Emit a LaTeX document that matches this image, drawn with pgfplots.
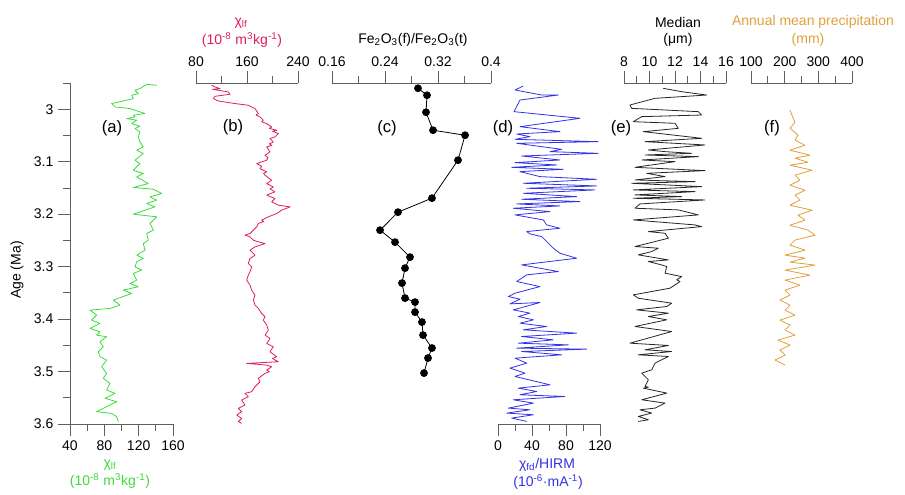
\documentclass[border=0pt]{standalone}
\usepackage{fontspec}
\setmainfont{Liberation Sans}
\usepackage{pgfplots}
\pgfplotsset{compat=1.18}
\definecolor{cA}{RGB}{60,220,60}
\definecolor{cB}{RGB}{220,30,90}
\definecolor{cD}{RGB}{50,50,230}
\definecolor{cF}{RGB}{225,160,60}
\definecolor{axc}{RGB}{95,95,95}
\pgfplotsset{
  base/.style={scale only axis, height=255.75pt, ymin=2.95, ymax=3.6, y dir=reverse,
    enlargelimits=false, tick align=outside, major tick length=9pt, minor tick length=5.25pt,
    axis line style={-, draw=axc, line width=0.6pt},
    every tick/.style={draw=axc, line width=0.6pt},
    /pgf/number format/assume math mode=true,
    tick label style={font=\fontsize{10.5}{12}\selectfont},
    clip=false,
    every axis plot/.append style={line width=0.6pt, line join=round}},
  topx/.style={base, hide y axis, axis x line*=top},
  botx/.style={base, hide y axis, axis x line*=bottom},
}
\newcommand{\lab}{\fontsize{10.5}{12}\selectfont}
\begin{document}
\begin{tikzpicture}
\path[use as bounding box] (0,0) rectangle (678.75pt,370.5pt);
% (a) with age axis
\begin{axis}[base, at={(52.5pt,52.5pt)}, anchor=south west, width=77.25pt,
  axis x line*=bottom, axis y line*=left, xmin=40, xmax=160,
  xtick={40,80,120,160}, minor xtick={60,100,140},
  ytick={3,3.1,3.2,3.3,3.4,3.5,3.6}, minor ytick={2.95,3.05,3.15,3.25,3.35,3.45,3.55}]
\addplot[cA] table {
140.9 2.9543
129.3 2.9524
121.5 2.9606
115.7 2.9638
119.6 2.9701
111.8 2.9733
113.8 2.9797
106.0 2.9828
88.5 2.9892
92.4 2.9955
109.9 2.9987
127.4 3.0082
113.8 3.0114
115.7 3.0146
106.0 3.0178
117.7 3.0209
111.8 3.0273
121.5 3.0324
115.7 3.0368
121.5 3.0432
119.6 3.0527
121.5 3.0622
125.4 3.0717
117.7 3.0781
125.4 3.0844
115.7 3.0971
121.5 3.1035
113.8 3.1162
125.4 3.1225
117.7 3.1289
131.2 3.1416
113.8 3.1492
137.1 3.1524
146.8 3.1606
133.2 3.1670
141.0 3.1733
129.3 3.1797
139.0 3.1860
113.8 3.2000
141.0 3.2051
133.2 3.2178
137.1 3.2305
129.3 3.2368
131.2 3.2495
125.4 3.2559
127.4 3.2686
117.7 3.2781
125.4 3.2844
117.7 3.2908
115.7 3.3003
123.5 3.3067
113.8 3.3130
117.7 3.3257
109.9 3.3321
119.6 3.3384
102.1 3.3448
111.8 3.3511
90.5 3.3638
98.2 3.3733
86.6 3.3797
63.3 3.3829
71.0 3.3924
65.2 3.4019
74.9 3.4083
63.3 3.4178
74.9 3.4241
71.0 3.4305
82.7 3.4337
74.9 3.4432
78.8 3.4527
73.0 3.4622
74.9 3.4717
82.7 3.4781
76.9 3.4908
82.7 3.5035
78.8 3.5130
86.6 3.5225
82.7 3.5352
92.4 3.5416
80.8 3.5511
94.4 3.5575
86.6 3.5638
71.0 3.5765
88.5 3.5797
94.4 3.5860
96.3 3.5956
};
\end{axis}
% (b)
\begin{axis}[topx, at={(147pt,52.5pt)}, anchor=south west, width=76.5pt,
  xmin=80, xmax=240, xtick={80,160,240}, minor xtick={120,200}]
\addplot[cB] table {
104.6 2.9543
109.8 2.9575
117.7 2.9607
106.0 2.9620
115.0 2.9638
130.7 2.9670
133.3 2.9715
109.8 2.9753
107.2 2.9797
115.0 2.9842
141.2 2.9892
162.1 2.9924
172.6 2.9988
177.8 3.0083
174.0 3.0110
180.4 3.0146
185.6 3.0210
183.0 3.0240
190.9 3.0273
198.7 3.0337
195.0 3.0365
206.6 3.0400
200.0 3.0420
209.2 3.0464
203.9 3.0527
196.1 3.0559
201.3 3.0623
195.0 3.0660
199.0 3.0690
190.9 3.0718
196.1 3.0813
188.3 3.0877
193.0 3.0920
190.9 3.0972
175.2 3.1035
183.0 3.1086
180.4 3.1131
190.9 3.1194
186.0 3.1220
188.3 3.1258
198.7 3.1353
190.9 3.1416
201.3 3.1480
196.0 3.1520
203.9 3.1575
190.9 3.1638
203.9 3.1702
198.7 3.1765
209.2 3.1829
227.5 3.1861
214.4 3.1924
206.6 3.1988
193.5 3.2051
183.0 3.2115
186.0 3.2140
177.8 3.2178
175.2 3.2242
170.0 3.2305
164.7 3.2369
156.9 3.2400
164.7 3.2432
170.0 3.2496
177.8 3.2527
188.3 3.2559
172.6 3.2623
164.7 3.2686
172.6 3.2781
164.7 3.2845
162.1 3.2940
167.3 3.3004
164.7 3.3099
162.1 3.3162
159.5 3.3257
164.7 3.3353
167.3 3.3448
172.6 3.3543
170.0 3.3638
172.6 3.3734
177.8 3.3797
183.0 3.3892
188.3 3.3956
185.6 3.4019
190.9 3.4115
193.5 3.4210
188.3 3.4305
196.1 3.4369
190.9 3.4464
201.3 3.4527
196.1 3.4623
206.6 3.4718
200.0 3.4750
203.9 3.4781
209.2 3.4813
159.5 3.4845
190.9 3.4877
198.7 3.4908
190.9 3.4972
195.0 3.5000
188.3 3.5035
177.8 3.5130
180.4 3.5194
172.6 3.5289
167.3 3.5384
156.9 3.5416
162.1 3.5480
151.6 3.5543
156.9 3.5638
146.4 3.5702
151.6 3.5765
143.8 3.5829
151.6 3.5892
146.4 3.5956
151.6 3.5988
};
\end{axis}
% (c)
\begin{axis}[topx, at={(249pt,52.5pt)}, anchor=south west, width=119.25pt,
  xmin=0.16, xmax=0.4, xtick={0.16,0.24,0.32,0.4}, minor xtick={0.2,0.28,0.36}]
\addplot[black, mark=*, mark size=2.6pt] table {
0.2898 2.9600
0.3034 2.9733
0.3019 3.0057
0.3125 3.0400
0.3608 3.0495
0.3502 3.0971
0.3109 3.1695
0.2596 3.1962
0.2325 3.2305
0.2551 3.2533
0.2777 3.2819
0.2702 3.3029
0.2657 3.3314
0.2702 3.3600
0.2853 3.3676
0.2853 3.3867
0.2958 3.4057
0.2974 3.4305
0.3109 3.4552
0.3049 3.4743
0.2989 3.5029
};
\end{axis}
% (d)
\begin{axis}[botx, at={(373.5pt,52.5pt)}, anchor=south west, width=76.5pt,
  xmin=0, xmax=120, xtick={0,40,80,120}, minor xtick={20,60,100}]
\addplot[cD] table {
29.8 2.9557
20.0 2.9633
51.4 2.9729
71.0 2.9729
25.9 2.9824
18.8 3.0046
96.4 3.0173
25.9 3.0332
72.9 3.0427
22.0 3.0472
37.6 3.0522
20.0 3.0573
118.0 3.0618
22.0 3.0649
74.9 3.0764
61.2 3.0808
118.0 3.0840
27.8 3.0891
72.9 3.0967
20.0 3.1018
69.0 3.1062
16.1 3.1107
76.8 3.1145
25.9 3.1189
49.4 3.1284
116.0 3.1335
29.8 3.1411
116.0 3.1462
33.7 3.1506
114.1 3.1538
29.8 3.1602
92.5 3.1665
27.8 3.1716
96.4 3.1760
22.0 3.1805
72.9 3.1843
18.0 3.1887
61.2 3.1951
20.0 3.2014
53.3 3.2110
57.2 3.2205
72.9 3.2268
33.7 3.2332
37.6 3.2376
51.4 3.2427
65.1 3.2649
72.9 3.2745
92.5 3.2840
27.8 3.2967
71.0 3.3094
33.7 3.3157
22.0 3.3284
49.4 3.3380
20.0 3.3507
12.2 3.3570
25.9 3.3621
14.1 3.3710
49.4 3.3684
18.0 3.3824
37.6 3.3887
23.9 3.3951
41.6 3.4014
25.9 3.4078
57.2 3.4141
29.8 3.4205
92.5 3.4268
27.8 3.4332
65.1 3.4395
23.9 3.4459
82.7 3.4491
22.0 3.4554
104.3 3.4573
27.8 3.4618
74.9 3.4681
20.0 3.4745
33.7 3.4840
14.1 3.4935
31.8 3.5030
20.0 3.5094
61.2 3.5253
23.9 3.5316
45.5 3.5380
25.9 3.5443
78.8 3.5475
18.0 3.5538
41.6 3.5602
12.2 3.5697
37.6 3.5729
10.2 3.5792
41.6 3.5824
16.1 3.5887
33.7 3.5951
};
\end{axis}
% (e)
\begin{axis}[topx, at={(468pt,52.5pt)}, anchor=south west, width=76.5pt,
  xmin=8, xmax=16, xtick={8,10,12,14,16}, minor xtick={9,11,13,15}]
\addplot[black!85] table {
11.08 2.9602
12.52 2.9665
14.48 2.9729
10.43 2.9792
8.47 2.9919
8.60 2.9983
13.83 3.0046
14.09 3.0110
9.39 3.0141
8.73 3.0237
12.00 3.0268
12.26 3.0364
9.52 3.0427
14.09 3.0554
9.65 3.0618
14.35 3.0681
9.91 3.0776
11.22 3.0808
13.31 3.0840
9.65 3.0872
13.83 3.0903
9.39 3.0967
12.00 3.0999
8.86 3.1107
14.35 3.1170
9.78 3.1221
11.22 3.1284
8.86 3.1348
13.57 3.1380
8.60 3.1411
14.09 3.1475
8.73 3.1538
13.57 3.1570
8.86 3.1633
12.52 3.1665
8.73 3.1697
14.35 3.1729
9.25 3.1805
8.86 3.1887
12.26 3.1919
13.83 3.2014
8.73 3.2110
13.57 3.2205
14.09 3.2237
9.91 3.2332
11.22 3.2364
11.48 3.2459
8.86 3.2617
10.69 3.2649
10.17 3.2713
9.12 3.2776
11.48 3.2872
9.91 3.2903
10.95 3.2967
11.35 3.2999
11.22 3.3125
12.52 3.3189
12.13 3.3252
12.39 3.3284
11.61 3.3411
8.73 3.3538
9.12 3.3602
11.74 3.3697
11.35 3.3760
8.99 3.3824
11.48 3.3887
9.91 3.3951
11.35 3.4014
8.86 3.4141
11.74 3.4237
8.47 3.4459
11.48 3.4503
9.65 3.4586
11.74 3.4618
9.12 3.4681
11.48 3.4713
10.43 3.4840
10.17 3.4967
9.39 3.5030
9.91 3.5157
9.65 3.5284
9.91 3.5297
9.52 3.5316
11.35 3.5411
9.39 3.5538
11.22 3.5602
10.43 3.5697
9.25 3.5729
10.17 3.5792
9.12 3.5856
9.91 3.5919
9.12 3.5951
};
\end{axis}
% (f)
\begin{axis}[topx, at={(563.25pt,52.5pt)}, anchor=south west, width=75.75pt,
  xmin=100, xmax=400, xtick={100,200,300,400}, minor xtick={150,250,350}]
\addplot[cF] table {
215.8 3.0019
221.8 3.0114
230.7 3.0248
215.8 3.0362
239.6 3.0495
230.7 3.0590
260.4 3.0686
215.8 3.0781
275.2 3.0876
230.7 3.0933
269.3 3.1010
215.8 3.1067
281.2 3.1162
230.7 3.1257
245.5 3.1352
215.8 3.1448
260.4 3.1543
230.7 3.1638
245.5 3.1733
215.8 3.1829
281.2 3.1924
239.6 3.2019
260.4 3.2114
215.8 3.2210
269.3 3.2305
290.1 3.2400
230.7 3.2495
215.8 3.2590
260.4 3.2686
201.0 3.2781
260.4 3.2838
215.8 3.2914
290.1 3.2971
201.0 3.3067
275.2 3.3162
201.0 3.3257
245.5 3.3352
201.0 3.3448
215.8 3.3543
186.1 3.3638
215.8 3.3733
201.0 3.3829
230.7 3.3924
186.1 3.4019
215.8 3.4114
201.0 3.4210
230.7 3.4305
180.2 3.4400
215.8 3.4495
186.1 3.4590
201.0 3.4686
171.3 3.4781
201.0 3.4876
};
\end{axis}
% labels
\node[cA, font=\lab] at (82.5pt,21.75pt) {χ\textsubscript{lf}};
\node[cA, font=\lab] at (82.5pt,9.75pt) {(10\textsuperscript{-8} m\textsuperscript{3}kg\textsuperscript{-1})};
\node[cB, font=\lab] at (180.75pt,353.25pt) {χ\textsubscript{lf}};
\node[cB, font=\lab] at (181.5pt,340.5pt) {(10\textsuperscript{-8} m\textsuperscript{3}kg\textsuperscript{-1})};
\node[font=\lab] at (309.75pt,340.5pt) {Fe\textsubscript{2}O\textsubscript{3}(f)/Fe\textsubscript{2}O\textsubscript{3}(t)};
\node[cD, font=\lab] at (410.25pt,21.75pt) {χ\textsubscript{fd}/HIRM};
\node[cD, font=\lab] at (411pt,9pt) {(10\textsuperscript{-6}·mA\textsuperscript{-1})};
\node[font=\lab] at (508.5pt,354pt) {Median};
\node[font=\lab] at (508.5pt,340.5pt) {(μm)};
\node[cF, font=\lab] at (609.75pt,354pt) {Annual mean precipitation};
\node[cF, font=\lab] at (606pt,340.5pt) {(mm)};
\node[font=\lab, rotate=90] at (12.75pt,168pt) {Age (Ma)};
\node[font=\fontsize{12.5}{14}\selectfont] at (84pt,274.5pt) {(a)};
\node[font=\fontsize{12.5}{14}\selectfont] at (174.75pt,275.25pt) {(b)};
\node[font=\fontsize{12.5}{14}\selectfont] at (290.25pt,274.5pt) {(c)};
\node[font=\fontsize{12.5}{14}\selectfont] at (377.25pt,274.5pt) {(d)};
\node[font=\fontsize{12.5}{14}\selectfont] at (465.75pt,274.5pt) {(e)};
\node[font=\fontsize{12.5}{14}\selectfont] at (579pt,274.5pt) {(f)};
\end{tikzpicture}
\end{document}
